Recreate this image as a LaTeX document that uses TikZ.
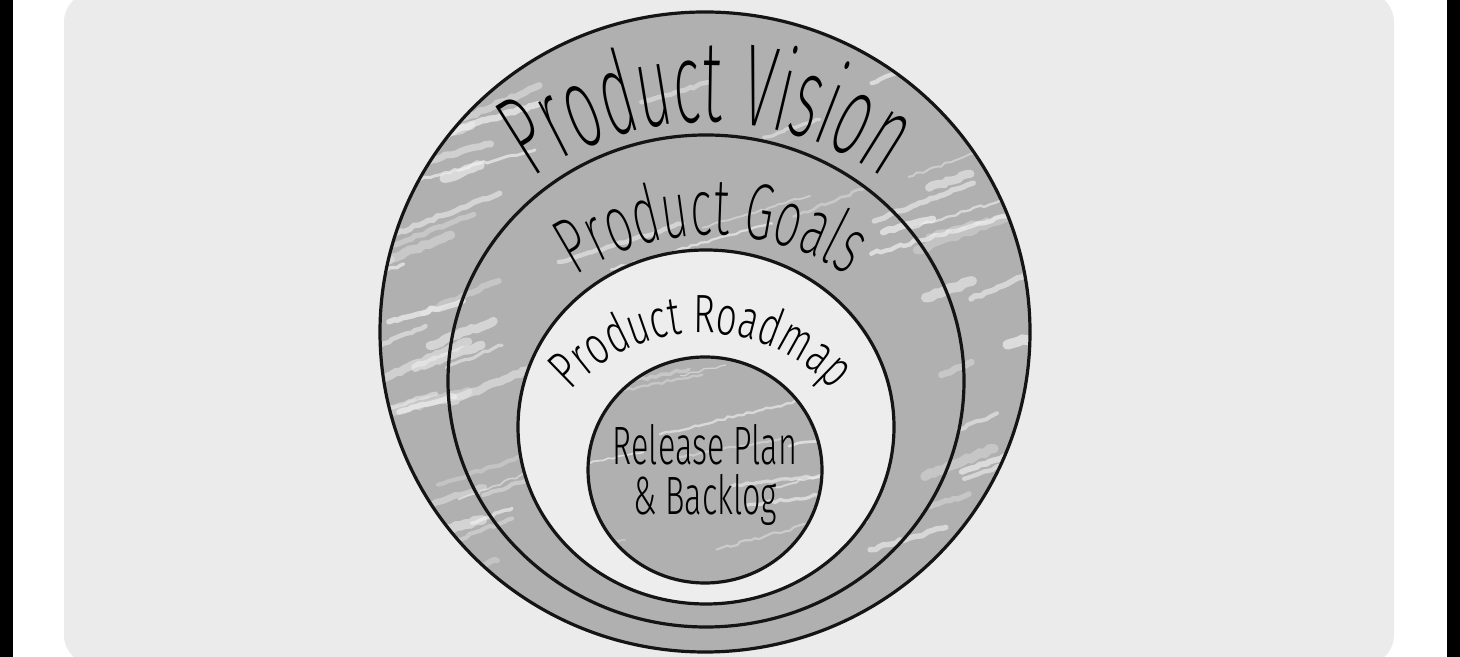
\documentclass[tikz,border=0pt]{standalone}
\usepackage{fontspec}
\usetikzlibrary{decorations.text,decorations.pathmorphing}
\IfFontExistsTF{Fira Sans ExtraLight}{\def\thinname{Fira Sans ExtraLight}}{\def\thinname{Fira Sans}}
\IfFontExistsTF{Fira Sans Light}{\def\lightname{Fira Sans Light}}{\def\lightname{Fira Sans}}
\newfontfamily\hV{\thinname}[FakeStretch=0.50]
\newfontfamily\hG{\thinname}[FakeStretch=0.58]
\newfontfamily\hR{\lightname}[FakeStretch=0.68]
\newfontfamily\hB{\lightname}[FakeStretch=0.60]
\newcommand\fV{\hV\fontsize{58pt}{64pt}\selectfont}
\newcommand\fG{\hG\fontsize{40pt}{44pt}\selectfont}
\newcommand\fR{\hR\fontsize{27pt}{30pt}\selectfont}
\newcommand\fB{\hB\fontsize{27pt}{30pt}\selectfont}
\definecolor{bggrey}{HTML}{EBEBEB}
\definecolor{ringgrey}{HTML}{B0B0B0}
\definecolor{mapfill}{HTML}{EDEDED}
\definecolor{streak}{HTML}{F2F2F2}
\tikzset{
  ring/.style={draw=black!92, line width=1.6pt},
  streakline/.style={streak, line cap=round, decorate,
    decoration={random steps, segment length=2.5pt, amplitude=0.7pt}},
  arctext/.style={decorate, decoration={text along path, text align=center, text={#1}}}
}
\begin{document}
\begin{tikzpicture}[x=0.5pt,y=0.5pt]
\useasboundingbox (0,0) rectangle (1460,657);
% frame
\begin{scope}
  \clip (0,0) rectangle (1460,657);
  \fill[white] (0,0) rectangle (1460,657);
  \fill[black] (0,0) rectangle (13,657);
  \fill[black] (1447,0) rectangle (1460,657);
  \fill[bggrey, rounded corners=15pt] (64,-8) rectangle (1394,665);
\end{scope}
% centres
\coordinate (cO) at (705,325);
\coordinate (cG) at (706,276);
\coordinate (cR) at (706,230);
\coordinate (cI) at (705,187);
% outer grey disc with chalk streaks
\fill[ringgrey] (cO) ellipse [x radius=325, y radius=320];
\begin{scope}
  \clip (cO) ellipse [x radius=325, y radius=320];
  \pgfmathsetseed{23}
  % broad streaks on the two sides
  \foreach \i in {1,...,46}{
    \pgfmathsetmacro\side{rnd<0.5 ? -1 : 1}
    \pgfmathsetmacro\sl{30+100*rnd}
    \pgfmathsetmacro\sx{705+\side*(200+140*rnd)-\sl/2}
    \pgfmathsetmacro\sy{40+560*rnd}
    \pgfmathsetmacro\sw{1.5+3.5*rnd}
    \pgfmathsetmacro\so{0.3+0.4*rnd}
    \pgfmathsetmacro\sa{14+10*rnd}
    \draw[streakline, line width=\sw pt, opacity=\so] (\sx,\sy) -- ++(\sa:\sl);
  }
  % thin scattered streaks elsewhere
  \foreach \i in {1,...,22}{
    \pgfmathsetmacro\sl{40+130*rnd}
    \pgfmathsetmacro\sx{400+560*rnd}
    \pgfmathsetmacro\sy{0+650*rnd}
    \pgfmathsetmacro\sw{0.8+1.6*rnd}
    \pgfmathsetmacro\so{0.3+0.4*rnd}
    \pgfmathsetmacro\sa{14+8*rnd}
    \draw[streakline, line width=\sw pt, opacity=\so] (\sx,\sy) -- ++(\sa:\sl);
  }
\end{scope}
% roadmap light disc
\fill[mapfill] (cR) ellipse [x radius=188, y radius=177];
% inner grey disc
\fill[ringgrey] (cI) ellipse [x radius=117, y radius=113];
\begin{scope}
  \clip (cI) ellipse [x radius=117, y radius=113];
  \pgfmathsetseed{5}
  \foreach \i in {1,...,12}{
    \pgfmathsetmacro\sx{570+230*rnd}
    \pgfmathsetmacro\sy{70+230*rnd}
    \pgfmathsetmacro\sl{40+110*rnd}
    \pgfmathsetmacro\sw{0.6+1.2*rnd}
    \pgfmathsetmacro\so{0.3+0.4*rnd}
    \pgfmathsetmacro\sa{6+10*rnd}
    \draw[streakline, line width=\sw pt, opacity=\so] (\sx,\sy) -- ++(\sa:\sl);
  }
\end{scope}
% outlines
\draw[ring] (cO) ellipse [x radius=325, y radius=320];
\draw[ring] (cG) ellipse [x radius=258, y radius=246];
\draw[ring] (cR) ellipse [x radius=188, y radius=177];
\draw[ring] (cI) ellipse [x radius=117, y radius=113];
% arc labels
\coordinate (tV) at (708,232);
\coordinate (tG) at (712,174);
\coordinate (tR) at (702,147);
\path[arctext={|\fV|Product Vision}] (tV) ++(145:303) arc[start angle=145, end angle=35, radius=303];
\path[arctext={|\fG|Product Goals}] (tG) ++(150:248) arc[start angle=150, end angle=30, radius=248];
\path[arctext={|\fR|Product Roadmap}] (tR) ++(160:177) arc[start angle=160, end angle=20, radius=177];
% centre label
\node[font=\fB, anchor=base] (rel1) at (705,192) {Release Plan};
\node[font=\fB, anchor=base] (rel2) at (705,142) {\& Backlog};
\end{tikzpicture}
\end{document}
